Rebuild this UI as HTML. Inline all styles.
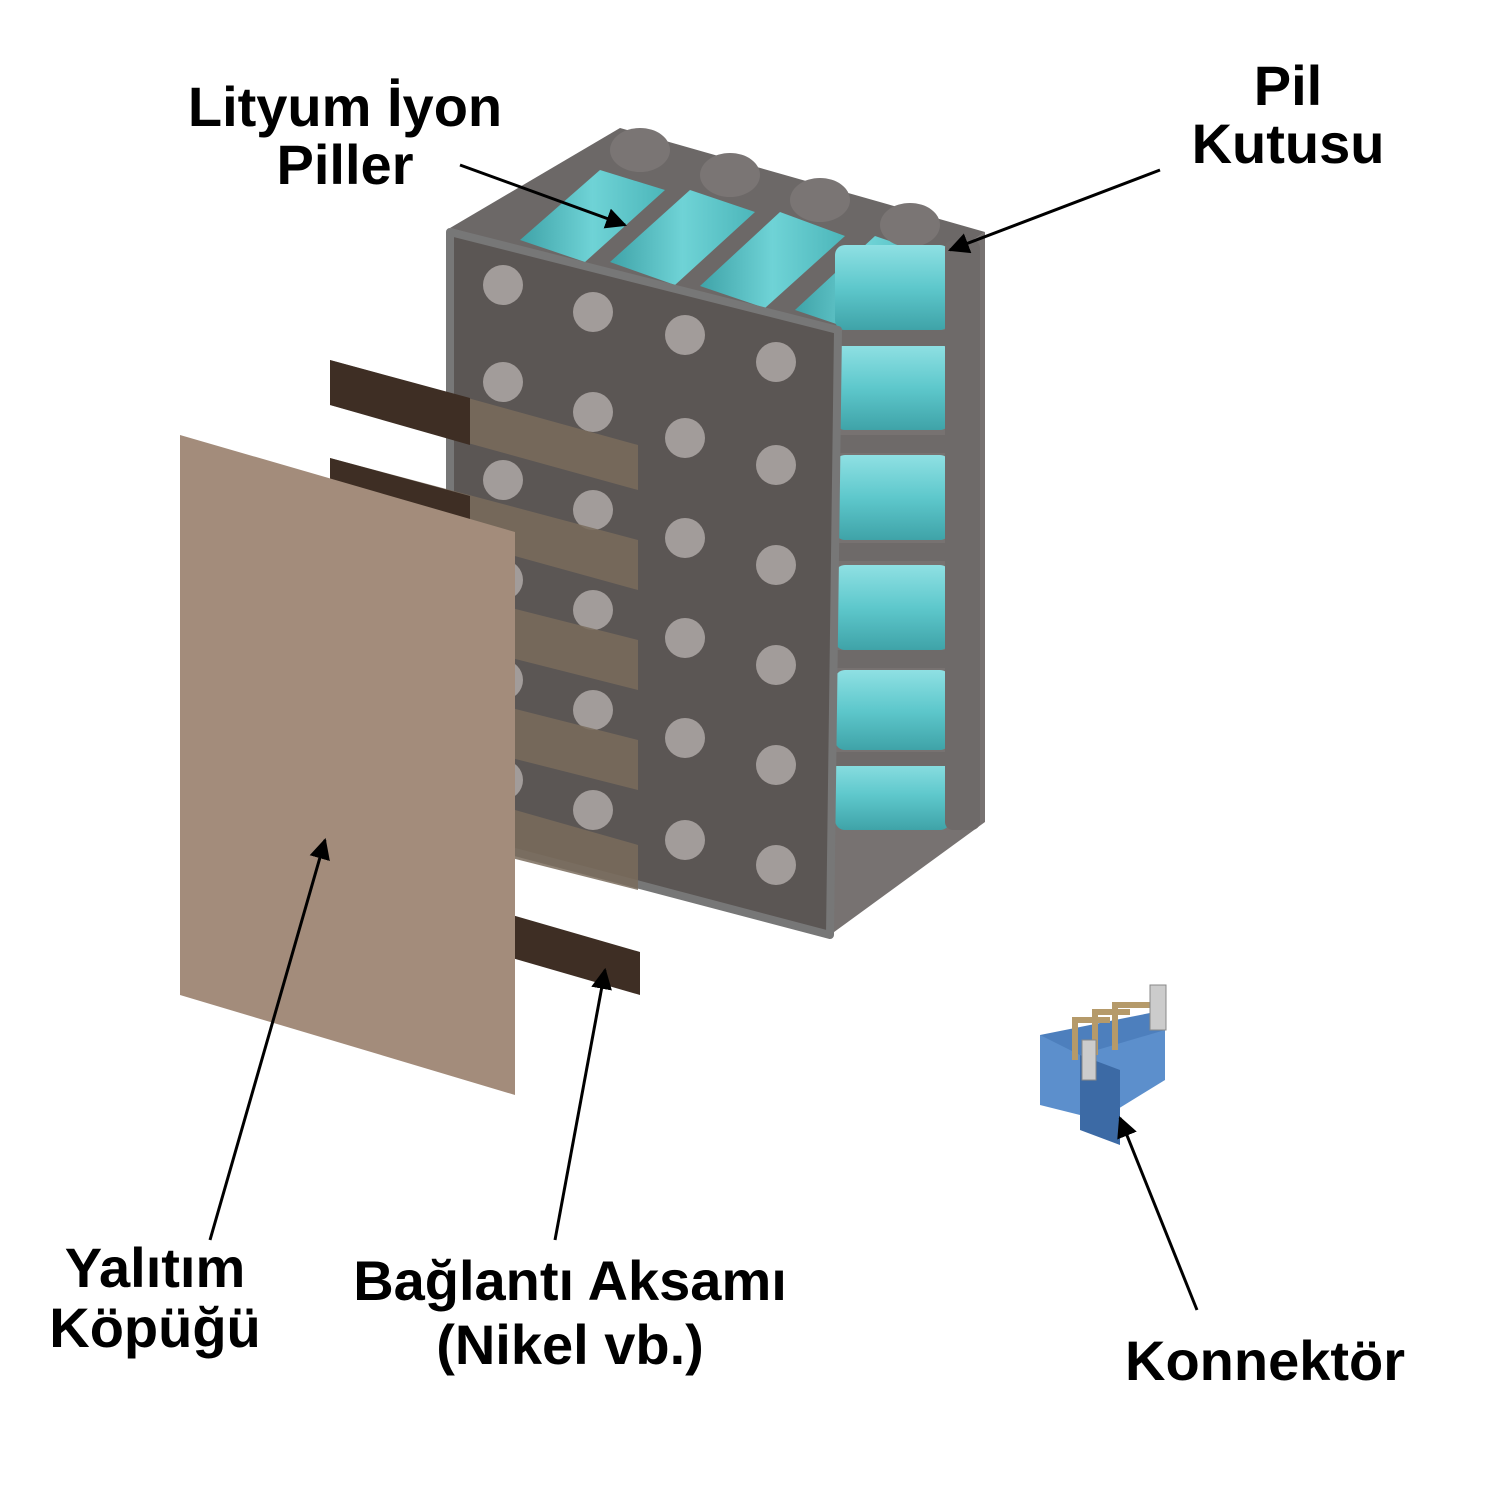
<!DOCTYPE html>
<html><head><meta charset="utf-8"><style>
html,body{margin:0;padding:0;background:#fff}
svg{display:block}
text{font-family:"Liberation Sans",sans-serif;font-size:56px;font-weight:bold;fill:#000;text-anchor:middle}
</style></head><body>
<svg width="1500" height="1500" viewBox="0 0 1500 1500">
<defs>
<marker id="ah" viewBox="0 0 10 10" refX="9" refY="5" markerWidth="7" markerHeight="7" orient="auto"><path d="M0,0 L10,5 L0,10 z" fill="#000"/></marker>
<linearGradient id="cyl" x1="0" y1="0" x2="0" y2="1"><stop offset="0" stop-color="#8fe0e3"/><stop offset="0.5" stop-color="#5ec8cc"/><stop offset="1" stop-color="#3fa3a8"/></linearGradient>
<linearGradient id="cylt" x1="0" y1="0" x2="1" y2="0"><stop offset="0" stop-color="#3fa3a8"/><stop offset="0.5" stop-color="#6fd3d6"/><stop offset="1" stop-color="#4cb6ba"/></linearGradient>
</defs>
<polygon points="450,228 620,128 985,232 838,332" fill="#6c6867"/>
<g fill="url(#cylt)">
<polygon points="520,240 600,170 665,190 585,262"/>
<polygon points="610,262 690,190 755,212 675,285"/>
<polygon points="700,286 780,212 845,236 765,308"/>
<polygon points="795,310 875,236 940,258 860,332"/>
</g>
<g fill="#7a7574">
<ellipse cx="640" cy="150" rx="30" ry="22"/><ellipse cx="730" cy="175" rx="30" ry="22"/><ellipse cx="820" cy="200" rx="30" ry="22"/><ellipse cx="910" cy="225" rx="30" ry="22"/>
</g>
<polygon points="838,332 985,232 985,822 830,935" fill="#777271"/>
<g fill="url(#cyl)">
<rect x="835" y="345" width="115" height="85" rx="10"/>
<rect x="835" y="455" width="115" height="85" rx="10"/>
<rect x="835" y="565" width="115" height="85" rx="10"/>
<rect x="835" y="670" width="115" height="80" rx="10"/>
<rect x="835" y="760" width="115" height="70" rx="10"/>
<rect x="835" y="245" width="115" height="85" rx="10"/>
</g>
<g fill="#6e6a69">
<rect x="945" y="240" width="35" height="590" rx="8"/>
<rect x="830" y="330" width="150" height="16"/>
<rect x="830" y="435" width="150" height="18"/>
<rect x="830" y="543" width="150" height="18"/>
<rect x="830" y="650" width="150" height="18"/>
<rect x="830" y="752" width="150" height="14"/>
</g>
<polygon points="450,232 838,330 830,935 450,835" fill="#5b5654" stroke="#777" stroke-width="8" stroke-linejoin="round"/>
<g fill="#a29c9a">
<circle cx="503" cy="285" r="20"/><circle cx="503" cy="382" r="20"/><circle cx="503" cy="480" r="20"/><circle cx="503" cy="580" r="20"/><circle cx="503" cy="680" r="20"/><circle cx="503" cy="780" r="20"/>
<circle cx="593" cy="312" r="20"/><circle cx="593" cy="412" r="20"/><circle cx="593" cy="510" r="20"/><circle cx="593" cy="610" r="20"/><circle cx="593" cy="710" r="20"/><circle cx="593" cy="810" r="20"/>
<circle cx="685" cy="335" r="20"/><circle cx="685" cy="438" r="20"/><circle cx="685" cy="538" r="20"/><circle cx="685" cy="638" r="20"/><circle cx="685" cy="738" r="20"/><circle cx="685" cy="840" r="20"/>
<circle cx="776" cy="362" r="20"/><circle cx="776" cy="465" r="20"/><circle cx="776" cy="565" r="20"/><circle cx="776" cy="665" r="20"/><circle cx="776" cy="765" r="20"/><circle cx="776" cy="865" r="20"/>
</g>
<g fill="#7a6c5c" opacity="0.85">
<polygon points="330,360 638,445 638,490 330,405"/>
<polygon points="330,458 638,540 638,590 330,505"/>
<polygon points="480,600 638,640 638,690 480,650"/>
<polygon points="480,700 638,740 638,790 480,750"/>
<polygon points="480,800 638,845 638,890 480,850"/>
</g>
<polygon points="330,360 470,398 470,445 330,405" fill="#3e2e24"/>
<polygon points="330,458 470,496 470,545 330,505" fill="#3e2e24"/>
<polygon points="512,915 640,952 640,995 512,958" fill="#3e2e24"/>
<polygon points="180,435 515,532 515,1095 180,995" fill="#a38c7b"/>
<polygon points="1040,1035 1165,1010 1165,1080 1040,1105" fill="#4d7fbd"/>
<polygon points="1040,1035 1080,1055 1165,1030 1165,1080 1100,1120 1040,1105" fill="#5c8fcc"/>
<polygon points="1080,1055 1120,1070 1120,1145 1080,1130" fill="#3c6aa5"/>
<g stroke="#b59a6a" stroke-width="6" fill="none">
<path d="M1075,1060 V1020 H1110"/><path d="M1095,1055 V1012 H1130"/><path d="M1115,1050 V1005 H1150"/>
</g>
<rect x="1150" y="985" width="16" height="45" fill="#ccc" stroke="#888"/>
<rect x="1082" y="1040" width="14" height="40" fill="#ccc" stroke="#888"/>
<g stroke="#000" stroke-width="3" marker-end="url(#ah)">
<line x1="460" y1="165" x2="625" y2="225"/>
<line x1="1160" y1="170" x2="950" y2="250"/>
<line x1="210" y1="1240" x2="325" y2="840"/>
<line x1="555" y1="1240" x2="605" y2="970"/>
<line x1="1197" y1="1310" x2="1120" y2="1118"/>
</g>
<text x="345" y="126">Lityum İyon</text>
<text x="345" y="184">Piller</text>
<text x="1288" y="105">Pil</text>
<text x="1288" y="163">Kutusu</text>
<text x="155" y="1287">Yalıtım</text>
<text x="155" y="1347">Köpüğü</text>
<text x="570" y="1300">Bağlantı Aksamı</text>
<text x="570" y="1364">(Nikel vb.)</text>
<text x="1265" y="1380">Konnektör</text>
</svg>
</body></html>
